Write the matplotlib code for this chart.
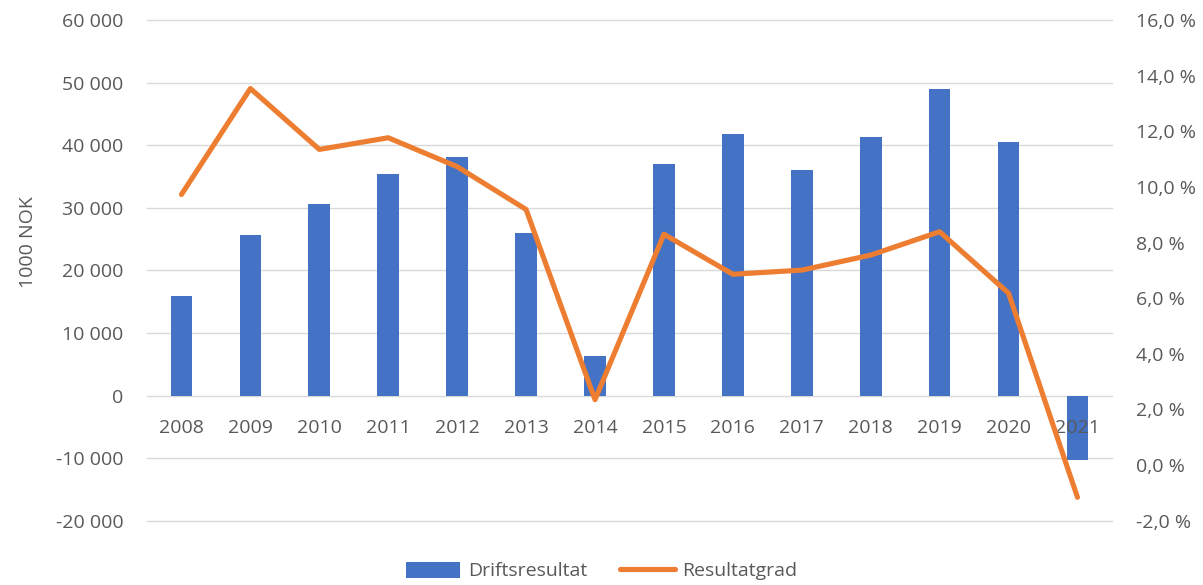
import matplotlib.pyplot as plt
from matplotlib.ticker import FuncFormatter

years = ['2008', '2009', '2010', '2011', '2012', '2013', '2014',
         '2015', '2016', '2017', '2018', '2019', '2020', '2021']
driftsresultat = [15970, 25670, 30670, 35370, 38130, 25990, 6290,
                  36960, 41750, 36000, 41270, 48990, 40480, -10270]
resultatgrad = [9.73, 13.54, 11.35, 11.77, 10.73, 9.19, 2.35,
                8.30, 6.86, 7.01, 7.55, 8.39, 6.18, -1.16]

plt.rcParams['font.family'] = ['Open Sans', 'DejaVu Sans']
txt = '#595959'
fs = 14

fig = plt.figure(figsize=(12.03, 5.85), dpi=100)
ax = fig.add_axes([0.1222, 0.110, 0.8021, 0.8556])
ax2 = ax.twinx()

x = list(range(len(years)))
ax.bar(x, driftsresultat, width=0.315, color='#4472C4', label='Driftsresultat', zorder=2)
ax2.plot(x, resultatgrad, color='#ED7D31', lw=3.7, solid_joinstyle='round',
         solid_capstyle='round', label='Resultatgrad', zorder=3)

ax.set_xlim(-0.5, len(years) - 0.5)
ax.set_ylim(-20000, 60000)
yt = list(range(-20000, 60001, 10000))
ax.set_yticks(yt)
ax.yaxis.set_major_formatter(FuncFormatter(lambda v, p: f'{int(v):,}'.replace(',', ' ')))
ax2.set_ylim(-2, 16)
ax2.set_yticks(range(-2, 17, 2))
ax2.yaxis.set_major_formatter(FuncFormatter(lambda v, p: f'{v:.1f} %'.replace('.', ',')))

ax.set_xticks(x)
ax.set_xticklabels(years)
ax.spines['bottom'].set_position(('data', 0))

for a in (ax, ax2):
    for s in a.spines.values():
        s.set_visible(False)
ax.tick_params(axis='x', length=0, pad=17, labelsize=fs, labelcolor=txt)
ax.tick_params(axis='y', length=0, pad=17, labelsize=fs, labelcolor=txt)
ax2.tick_params(axis='y', length=0, pad=17, labelsize=fs, labelcolor=txt)

# gridlines under the bars, year labels above them
ax.set_axisbelow(False)
for v in yt:
    ax.axhline(v, color='#d9d9d9', lw=1.0, zorder=0.5, clip_on=False)

ax.set_ylabel('1000 NOK', fontsize=fs, color=txt)
ax.yaxis.set_label_coords(-0.114, 0.557)

h1, l1 = ax.get_legend_handles_labels()
h2, l2 = ax2.get_legend_handles_labels()
fig.legend(h1 + h2, l1 + l2, loc='lower center', bbox_to_anchor=(0.5, -0.022), ncol=2,
           frameon=False, fontsize=fs, labelcolor=txt, handlelength=2.8,
           handleheight=0.9, columnspacing=1.7, handletextpad=0.4)

fig.savefig('out.png', dpi=100)
